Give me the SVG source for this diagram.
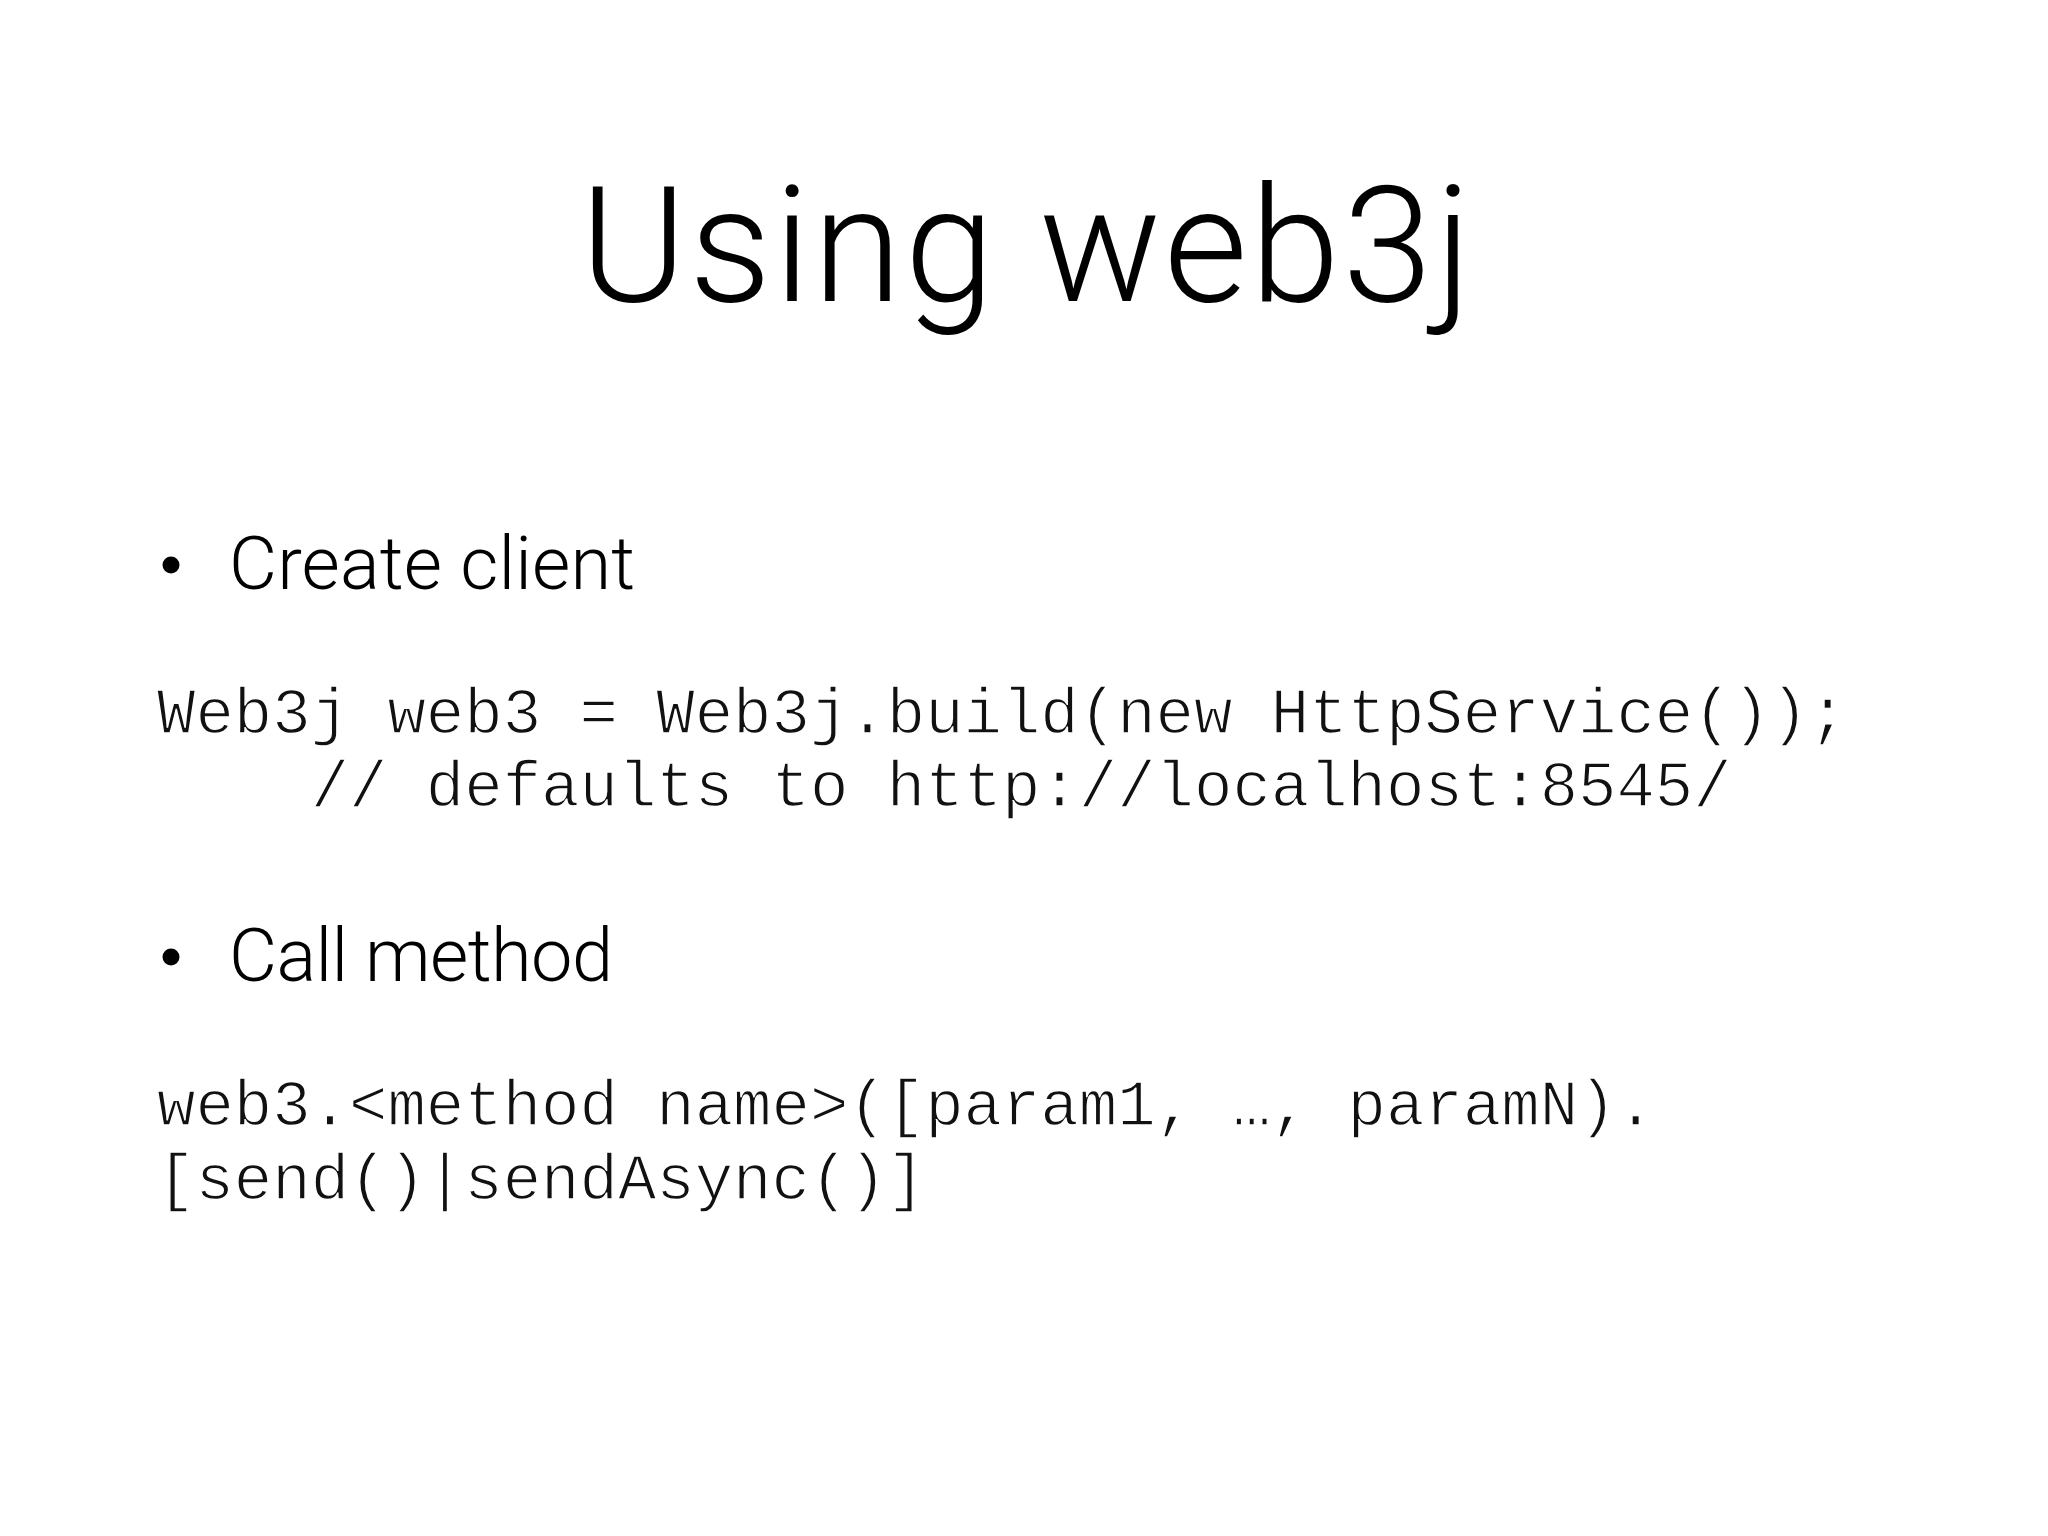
<svg xmlns="http://www.w3.org/2000/svg" width="2048" height="1536" viewBox="0 0 2048 1536">
<style>
.title{font-family:"Roboto","Liberation Sans",sans-serif;font-weight:300;font-size:162px;fill:#000}
.bullet{font-family:"Roboto","Liberation Sans",sans-serif;font-weight:300;font-size:74px;fill:#000}
.code{font-family:"Liberation Mono","DejaVu Sans Mono",monospace;font-size:64px;fill:#111;stroke:#fff;stroke-width:1.4px;white-space:pre}
</style>
<rect width="2048" height="1536" fill="#fff"/>
<g id="title"><text class="title" x="580" y="301" textLength="892">Using web3j</text></g>
<g id="bullet1">
<circle cx="171" cy="565" r="8.5" fill="#000"/>
<text class="bullet" x="229" y="589" textLength="406">Create client</text>
</g>
<g id="code1">
<text class="code" x="157" y="733" xml:space="preserve">Web3j web3 = Web3j.build(new HttpService());</text>
<text class="code" x="157" y="806" xml:space="preserve">    // defaults to http://localhost:8545/</text>
</g>
<g id="bullet2">
<circle cx="171" cy="957" r="8.5" fill="#000"/>
<text class="bullet" x="229" y="981" textLength="384">Call method</text>
</g>
<g id="code2">
<text class="code" x="157" y="1125" xml:space="preserve">web3.&lt;method name&gt;([param1, …, paramN).</text>
<text class="code" x="157" y="1199" xml:space="preserve">[send()|sendAsync()]</text>
</g>
</svg>
